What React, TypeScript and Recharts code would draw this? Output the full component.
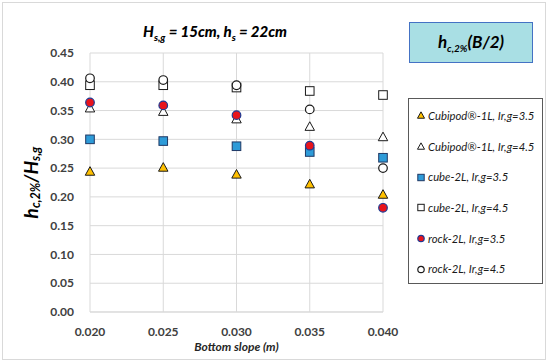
import React from 'react';
import { ScatterChart, Scatter, XAxis, YAxis, CartesianGrid, Label } from 'recharts';

const slopes = [0.02, 0.025, 0.03, 0.035, 0.04];
const cubipod35 = [0.244, 0.251, 0.239, 0.222, 0.204];
const cubipod45 = [0.354, 0.348, 0.335, 0.322, 0.304];
const cube35 = [0.3, 0.297, 0.288, 0.278, 0.268];
const cube45 = [0.394, 0.394, 0.39, 0.384, 0.377];
const rock35 = [0.364, 0.359, 0.342, 0.289, 0.181];
const rock45 = [0.406, 0.403, 0.394, 0.352, 0.25];
const xTicks = [0.02, 0.025, 0.03, 0.035, 0.04];
const yTicks = [0, 0.05, 0.1, 0.15, 0.2, 0.25, 0.3, 0.35, 0.4, 0.45];

const FONT = 'Lato, "Open Sans", sans-serif';

const toData = (vals: number[]) => slopes.map((s, i) => ({ x: s, y: vals[i] }));

type Kind = 'triangle' | 'square' | 'circle';

const drawMarker = (kind: Kind, cx: number, cy: number, fill: string, stroke: string, r: number) => {
  if (kind === 'triangle') {
    const h = r * 1.9;
    const p = `${cx},${cy - h * 0.6} ${cx + r * 1.1},${cy + h * 0.45} ${cx - r * 1.1},${cy + h * 0.45}`;
    return <polygon points={p} fill={fill} stroke={stroke} strokeWidth={1} />;
  }
  if (kind === 'square') {
    return <rect x={cx - r} y={cy - r} width={r * 2} height={r * 2} fill={fill} stroke={stroke} strokeWidth={1} />;
  }
  return <circle cx={cx} cy={cy} r={r} fill={fill} stroke={stroke} strokeWidth={1.2} />;
};

const seriesDefs: { name: string; vals: number[]; kind: Kind; fill: string; stroke: string }[] = [
  { name: 'Cubipod®-1L, Ir,g=3.5', vals: cubipod35, kind: 'triangle', fill: '#FFC000', stroke: '#1a1a1a' },
  { name: 'Cubipod®-1L, Ir,g=4.5', vals: cubipod45, kind: 'triangle', fill: '#ffffff', stroke: '#1a1a1a' },
  { name: 'cube-2L, Ir,g=3.5', vals: cube35, kind: 'square', fill: '#2E9BD8', stroke: '#1f3864' },
  { name: 'cube-2L, Ir,g=4.5', vals: cube45, kind: 'square', fill: '#ffffff', stroke: '#1a1a1a' },
  { name: 'rock-2L, Ir,g=3.5', vals: rock35, kind: 'circle', fill: '#E8141C', stroke: '#1f3a93' },
  { name: 'rock-2L, Ir,g=4.5', vals: rock45, kind: 'circle', fill: '#ffffff', stroke: '#1a1a1a' },
];

const YLabel = (props: any) => {
  const vb = props.viewBox || {};
  const cy = (vb.y || 0) + (vb.height || 0) / 2;
  const cx = 30;
  return (
    <text
      x={cx}
      y={cy}
      transform={`rotate(-90 ${cx} ${cy})`}
      textAnchor="middle"
      dominantBaseline="central"
      fontFamily={FONT}
      fontWeight="bold"
      fontStyle="italic"
      fontSize={19}
      fill="#000"
    >
      <tspan>h</tspan>
      <tspan fontSize={12.5} dy={5}>c,2%</tspan>
      <tspan dy={-5}>/H</tspan>
      <tspan fontSize={12.5} dy={5}>s,g</tspan>
    </text>
  );
};

const XLabel = (props: any) => {
  const vb = props.viewBox || {};
  const cx = (vb.x || 0) + (vb.width || 0) / 2;
  return (
    <text x={cx} y={351} textAnchor="middle" fontFamily={FONT} fontWeight="bold" fontStyle="italic" fontSize={12} fill="#262626">
      Bottom slope (m)
    </text>
  );
};

const LegendBox = () => (
  <div
    style={{
      position: 'absolute',
      left: 408,
      top: 98,
      width: 135,
      height: 186,
      border: '1.5px solid #595959',
      background: '#fff',
      boxSizing: 'border-box',
      paddingTop: 1,
      fontFamily: FONT,
      fontStyle: 'italic',
      fontSize: 11.3,
      color: '#1a1a1a',
    }}
  >
    {seriesDefs.map((s) => (
      <div key={s.name} style={{ display: 'flex', alignItems: 'center', height: 30.7, paddingLeft: 7, whiteSpace: 'nowrap' }}>
        <svg width={10} height={10} style={{ marginRight: 2 }}>
          {drawMarker(s.kind, 5, 5.5, s.fill, s.stroke, 3.2)}
        </svg>
        <span>{s.name}</span>
      </div>
    ))}
  </div>
);

export default function App() {
  return (
    <div style={{ position: 'absolute', left: 0, top: 0, width: 550, height: 364, background: '#fff' }}>
      <div
        style={{
          position: 'absolute',
          left: 2,
          top: 2,
          width: 544,
          height: 358,
          border: '1px solid #d9d9d9',
          boxSizing: 'border-box',
        }}
      />
      <ScatterChart width={550} height={364} margin={{ top: 53, right: 167, bottom: 22, left: 30 }}>
        <CartesianGrid stroke="#d9d9d9" strokeWidth={1} />
        <XAxis
          type="number"
          dataKey="x"
          domain={[0.02, 0.04]}
          ticks={xTicks}
          tickFormatter={(v: number) => v.toFixed(3)}
          axisLine={{ stroke: '#d9d9d9' }}
          tickLine={false}
          tick={{ fontFamily: FONT, fontWeight: 'bold', fontSize: 12, fill: '#404040' }}
          tickMargin={9}
          height={30}
        >
          <Label content={<XLabel />} />
        </XAxis>
        <YAxis
          type="number"
          dataKey="y"
          domain={[0, 0.45]}
          ticks={yTicks}
          tickFormatter={(v: number) => v.toFixed(2)}
          axisLine={false}
          tickLine={false}
          tick={{ fontFamily: FONT, fontWeight: 'bold', fontSize: 12, fill: '#404040' }}
          width={60}
          tickMargin={10}
        >
          <Label content={<YLabel />} />
        </YAxis>
        {seriesDefs.map((s) => (
          <Scatter
            key={s.name}
            name={s.name}
            data={toData(s.vals)}
            isAnimationActive={false}
            shape={(p: any) => drawMarker(s.kind, p.cx, p.cy, s.fill, s.stroke, 4.3)}
          />
        ))}
      </ScatterChart>
      <LegendBox />
      <div
        style={{
          position: 'absolute',
          left: 0,
          width: 430,
          top: 22,
          textAlign: 'center',
          fontFamily: FONT,
          fontWeight: 900,
          fontStyle: 'italic',
          fontSize: 15,
          color: '#000',
        }}
      >
        H<sub style={{ fontSize: 10 }}>s,g</sub> = 15cm, h<sub style={{ fontSize: 10 }}>s</sub> = 22cm
      </div>
      <div
        style={{
          position: 'absolute',
          left: 409,
          top: 22,
          width: 124,
          height: 41,
          background: '#A9DFE4',
          border: '1px solid #4472C4',
          boxSizing: 'border-box',
          display: 'flex',
          alignItems: 'center',
          justifyContent: 'center',
          fontFamily: FONT,
          fontWeight: 'bold',
          fontStyle: 'italic',
          fontSize: 17,
          color: '#000',
        }}
      >
        <span>
          h<sub style={{ fontSize: 10 }}>c,2%</sub>(B/2)
        </span>
      </div>
    </div>
  );
}
